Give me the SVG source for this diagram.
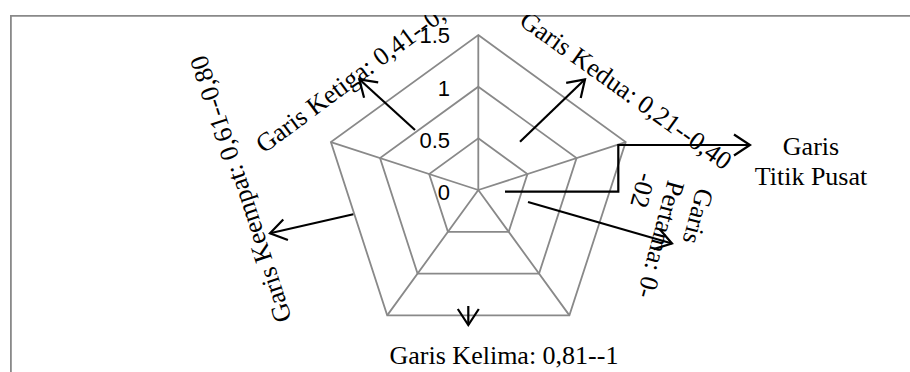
<svg xmlns="http://www.w3.org/2000/svg" width="910" height="372" viewBox="0 0 910 372">
  <defs>
    <style>
      .grid { fill: none; stroke: #898989; stroke-width: 1.8; stroke-linejoin: miter; }
      .frame { fill: none; stroke: #898989; stroke-width: 1.8; }
      .conn { fill: none; stroke: #000; stroke-width: 2.2; }
      .ax { font-family: "Liberation Sans", Arial, sans-serif; font-size: 22px; fill: #000; text-anchor: end; }
      .lbl { font-family: "Liberation Serif", "Times New Roman", serif; font-size: 26px; fill: #000; }
    </style>
    <marker id="ah" markerUnits="userSpaceOnUse" markerWidth="30" markerHeight="30" viewBox="-25 -15 30 30" refX="0" refY="0" orient="auto">
      <path d="M-16,-10.5 L0,0 L-16,10.5" fill="none" stroke="#000" stroke-width="2.2"/>
    </marker>
    <clipPath id="plot">
      <rect x="10" y="15" width="900" height="357"/>
    </clipPath>
  </defs>
  <rect x="0" y="0" width="910" height="372" fill="#fff"/>
  <path class="frame" d="M10.9,372 V15.9 H910"/>

  <g id="radar-grid">
    <polygon class="grid" points="478.3,35 625.7,142.1 569.4,315.4 387.2,315.4 330.9,142.1"/>
    <polygon class="grid" points="478.3,86.67 576.57,158.07 539.04,273.6 417.56,273.6 380.03,158.07"/>
    <polygon class="grid" points="478.3,138.33 527.44,174.03 508.67,231.8 447.93,231.8 429.16,174.03"/>
    <path class="grid" d="M478.3,190 L478.3,35 M478.3,190 L625.7,142.1 M478.3,190 L569.4,315.4 M478.3,190 L387.2,315.4 M478.3,190 L330.9,142.1"/>
  </g>

  <g id="axis-labels">
    <text class="ax" x="450" y="43">1.5</text>
    <text class="ax" x="450" y="95.5">1</text>
    <text class="ax" x="450" y="148">0.5</text>
    <text class="ax" x="450" y="200">0</text>
  </g>

  <g id="connectors">
    <line class="conn" x1="415" y1="130" x2="359.3" y2="79.3" marker-end="url(#ah)"/>
    <line class="conn" x1="520" y1="141.7" x2="585" y2="79.3" marker-end="url(#ah)"/>
    <polyline class="conn" points="505,191.7 618.3,191.7 618.3,145 750,145" marker-end="url(#ah)"/>
    <line class="conn" x1="528" y1="202" x2="672" y2="243.5" marker-end="url(#ah)"/>
    <line class="conn" x1="353.3" y1="214.3" x2="270" y2="233.3" marker-end="url(#ah)"/>
    <line class="conn" x1="468.3" y1="306" x2="468.3" y2="325" marker-end="url(#ah)"/>
  </g>

  <g clip-path="url(#plot)">
    <g id="label-ketiga">
      <text class="lbl" transform="translate(264,154) rotate(-36.6)">Garis Ketiga: 0,41--0,</text>
    </g>
    <g id="label-kedua">
      <text class="lbl" transform="translate(518,24) rotate(35.5)">Garis Kedua: 0,21--0,40</text>
    </g>
    <g id="label-keempat">
      <text class="lbl" transform="translate(292,319) rotate(-108)">Garis Keempat: 0,61--0,80</text>
    </g>
    <g id="label-pertama">
      <text class="lbl" transform="translate(697,187) rotate(105)"><tspan x="0" y="0">Garis</tspan><tspan x="0" dy="30">Pertama: 0-</tspan><tspan x="0" dy="30">-02</tspan></text>
    </g>
    <g id="label-titik-pusat">
      <text class="lbl" text-anchor="middle"><tspan x="811" y="155">Garis</tspan><tspan x="811" y="185">Titik Pusat</tspan></text>
    </g>
    <g id="label-kelima">
      <text class="lbl" x="504" y="364" text-anchor="middle">Garis Kelima: 0,81--1</text>
    </g>
  </g>
</svg>
